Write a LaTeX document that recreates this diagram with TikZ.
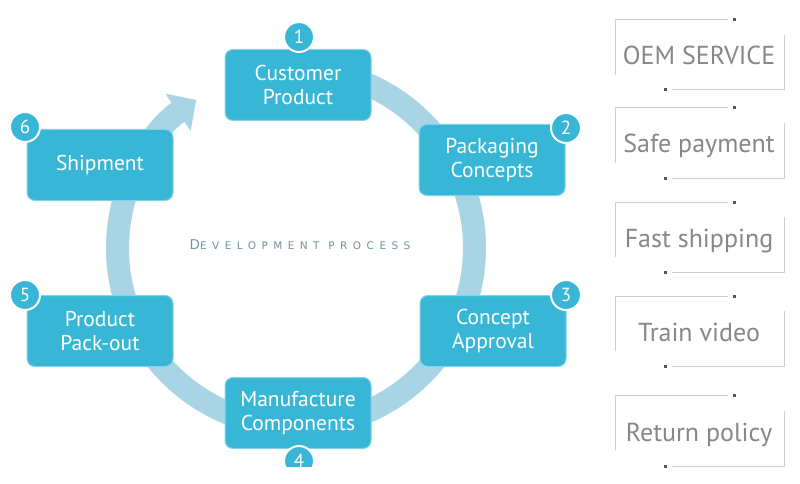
\documentclass[tikz,border=0pt]{standalone}
\usepackage{fontspec}
\setmainfont{PT Sans}
\newfontfamily\devfont{DejaVu Sans}
\usetikzlibrary{arrows.meta}
\definecolor{boxc}{RGB}{56,182,214}
\definecolor{ringc}{RGB}{168,212,230}
\definecolor{edgec}{RGB}{130,210,232}
\definecolor{graytxt}{RGB}{135,135,135}
\definecolor{framec}{RGB}{205,205,205}
\definecolor{dotc}{RGB}{85,85,85}
\definecolor{devc}{RGB}{110,150,160}
\begin{document}
\begin{tikzpicture}[x=1pt,y=-1pt,
 stepbox/.style={draw=edgec, line width=1pt, fill=boxc, rounded corners=8pt, minimum width=146pt, minimum height=71pt, text=white, align=center, font=\fontsize{21.5}{24}\selectfont, inner sep=0pt},
 badge/.style={circle, fill=boxc, draw=white, line width=2pt, minimum size=30pt, inner sep=0pt, text=white, font=\fontsize{19}{19}\selectfont},
 ring/.style={draw=ringc, line width=23pt},
 infotext/.style={text=graytxt, font=\fontsize{26}{26}\selectfont, inner sep=0pt, anchor=base},
 framel/.style={draw=framec, line width=1pt},
 dot/.style={fill=dotc}]
\useasboundingbox (0,0) rectangle (800,484);
\fill[white] (0,0) rectangle (800,484);
\coordinate (c) at (296,248);
\draw[ring, -{Triangle[width=44pt,length=22pt]}] (c) ++(-85:178.5) arc[start angle=-85, end angle=236, radius=178.5];
\node[stepbox] (b1) at (298,85) {Customer\\Product};
\node[stepbox] (b2) at (492,160) {Packaging\\Concepts};
\node[stepbox] (b3) at (493,331) {Concept\\Approval};
\node[stepbox] (b4) at (298,413) {Manufacture\\Components};
\node[stepbox] (b5) at (100,331) {Product\\Pack-out};
\node[stepbox] (b6) at (100,165) {Shipment};
\node[badge] (n1) at (299,37) {1};
\node[badge] (n2) at (566,128) {2};
\node[badge] (n3) at (566,295) {3};
\begin{scope}
\clip (0,0) rectangle (800,466);
\node[badge] (n4) at (299,461) {4};
\end{scope}
\node[badge] (n5) at (25,295) {5};
\node[badge] (n6) at (25,127) {6};
\node[text=devc, inner sep=0pt] (dev) at (300,245) {\devfont\addfontfeature{LetterSpace=52}{\fontsize{13.5}{14}\selectfont D}{\fontsize{10.5}{14}\selectfont EVELOPMENT PROCESS}};
\foreach \t/\b/\bl/\lab/\nm in {20/90/65/OEM SERVICE/r1, 108/178/153/Safe payment/r2, 202/272/247/Fast shipping/r3, 296/366/341/Train video/r4, 395/466/441/Return policy/r5} {
 \draw[framel] (728,\t) -- (615,\t) -- (615,\t+55);
 \draw[framel] (784,\b-55) -- (784,\b) -- (672,\b);
 \fill[dot] (732.5,\t-1.5) rectangle (735.5,\t+1.5);
 \fill[dot] (663.5,\b-1.5) rectangle (666.5,\b+1.5);
 \node[infotext] (\nm) at (699,\bl) {\lab};
}
\end{tikzpicture}
\end{document}
